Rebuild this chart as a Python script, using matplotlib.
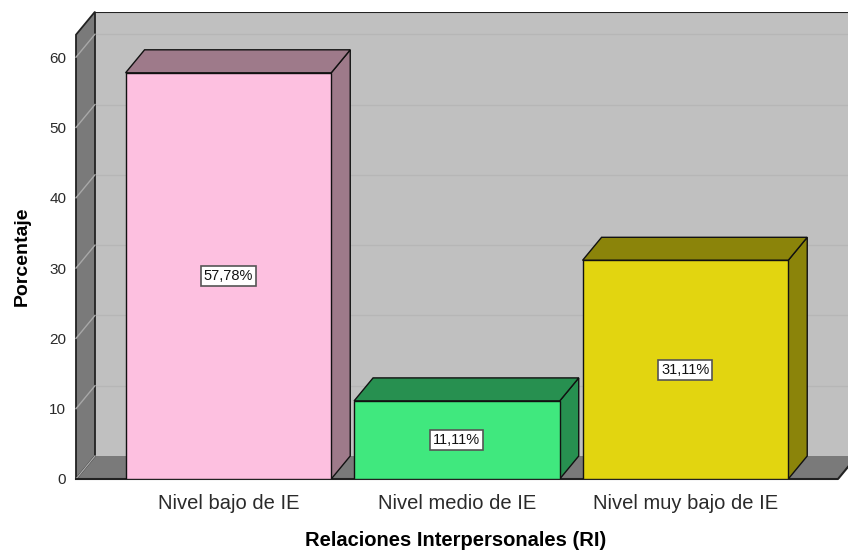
import matplotlib
matplotlib.use("Agg")
import matplotlib.pyplot as plt
from matplotlib.patches import Polygon

# ---- data ----
categories = ["Nivel bajo de IE", "Nivel medio de IE", "Nivel muy bajo de IE"]
values = [57.78, 11.11, 31.11]
front_colors = ["#fdc0e0", "#40e87e", "#e2d510"]
dark_colors = ["#9e7a8a", "#279050", "#8b840a"]
yticks = [0, 10, 20, 30, 40, 50, 60]

plt.rcParams["font.family"] = ["Liberation Sans", "DejaVu Sans"]

W, Hpx = 848, 558
fig = plt.figure(figsize=(W / 100, Hpx / 100), dpi=100)
# axes: front plane bottom at y=479px, top of figure area at y=12px; x from 76px to right edge
ax = fig.add_axes([76 / W, (Hpx - 479) / Hpx, (W - 76) / W, 467 / Hpx])

xs = 228.5  # px per category unit
ys = 7.03   # px per percent
x0 = -0.667
x1 = x0 + 762 / xs
ax.set_xlim(x0, x0 + (W - 76) / xs)
ax.set_ylim(0, 467 / ys)
dx = 19 / xs
dy = 23 / ys
Hw = 63.2  # wall height (front plane)

wall_dark = "#7a7a7a"
# back wall
ax.add_patch(Polygon([(x0 + dx, dy), (x1 + dx + 1, dy), (x1 + dx + 1, Hw + dy), (x0 + dx, Hw + dy)],
                     closed=True, facecolor="#c0c0c0", edgecolor="none", zorder=1))
for v in yticks[1:]:
    ax.plot([x0 + dx, x1 + dx + 1], [v + dy, v + dy], color="#b6b6b6", lw=1.0, zorder=1.5)
ax.plot([x0 + dx, x1 + dx + 1], [Hw + dy, Hw + dy], color="#222222", lw=1.5, zorder=2)
# floor
ax.add_patch(Polygon([(x0, 0), (x1, 0), (x1 + dx, dy), (x0 + dx, dy)],
                     closed=True, facecolor=wall_dark, edgecolor="none", zorder=2))
ax.plot([x0, x1, x1 + dx], [0, 0, dy], color="#222222", lw=1.5, zorder=2.5, clip_on=False)
# left wall
ax.add_patch(Polygon([(x0, 0), (x0 + dx, dy), (x0 + dx, Hw + dy), (x0, Hw)],
                     closed=True, facecolor=wall_dark, edgecolor="#222222", lw=1.3, zorder=2.2,
                     clip_on=False))
for v in yticks:
    ax.plot([x0, x0 + dx], [v, v + dy], color="#a8a8a8", lw=1.0, zorder=2.3, clip_on=False)

# bars
bw = 0.9
xpos = list(range(len(categories)))
for i, (x, v) in enumerate(zip(xpos, values)):
    xl, xr = x - bw / 2, x + bw / 2
    ax.add_patch(Polygon([(xr, 0), (xr + dx, dy), (xr + dx, v + dy), (xr, v)], closed=True,
                         facecolor=dark_colors[i], edgecolor="#111111", lw=1.0, zorder=3))
    ax.add_patch(Polygon([(xl, v), (xr, v), (xr + dx, v + dy), (xl + dx, v + dy)], closed=True,
                         facecolor=dark_colors[i], edgecolor="#111111", lw=1.0, zorder=3))
ax.bar(xpos, values, width=bw, color=front_colors, edgecolor="#111111", linewidth=1.0, zorder=4)

for x, v in zip(xpos, values):
    ax.text(x, v / 2, f"{v:.2f}%".replace(".", ","), ha="center", va="center", fontsize=10.5,
            color="#111111", zorder=5,
            bbox=dict(boxstyle="square,pad=0.2", facecolor="white", edgecolor="#555555", lw=1.2))

for s in ax.spines.values():
    s.set_visible(False)
ax.set_xticks(xpos)
ax.set_xticklabels(categories, fontsize=14.5, color="#2a2a2a")
ax.set_yticks(yticks)
ax.set_yticklabels([str(t) for t in yticks], fontsize=11, color="#2a2a2a")
ax.tick_params(axis="x", length=0, pad=11)
ax.tick_params(axis="y", length=0, pad=7)

ax.set_ylabel("Porcentaje", fontsize=14, fontweight="bold")
ax.yaxis.label.set_va("center")
ax.yaxis.set_label_coords((22 - 76) / (W - 76), (479 - 256) / 467)
ax.set_xlabel("Relaciones Interpersonales (RI)", fontsize=14.5, fontweight="bold")
ax.xaxis.label.set_va("center")
ax.xaxis.set_label_coords((456 - 76) / (W - 76), (479 - 540) / 467)

fig.savefig("out.png", dpi=100)
